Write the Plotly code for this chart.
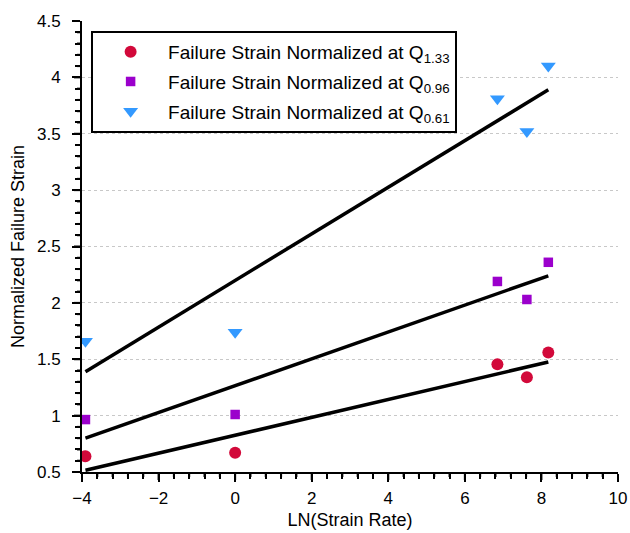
import numpy as np
import plotly.graph_objects as go

# Data
ln_rate = [-3.91, 0.0, 6.85, 7.62, 8.18]
q133 = [0.64, 0.67, 1.455, 1.34, 1.56]
q096 = [0.965, 1.01, 2.19, 2.03, 2.36]
q061 = [1.66, 1.74, 3.81, 3.52, 4.10]

# Fit-line endpoints
fit_x = [-3.91, 8.18]
fit_q133 = [0.515, 1.476]
fit_q096 = [0.80, 2.24]
fit_q061 = [1.39, 3.89]

names = [
    "Failure Strain Normalized at Q<sub>1.33</sub>",
    "Failure Strain Normalized at Q<sub>0.96</sub>",
    "Failure Strain Normalized at Q<sub>0.61</sub>",
]

x_range = [-4, 10]
y_range = [0.5, 4.5]
x_major, x_minor = 2, 0.4
y_major, y_minor = 0.5, 0.1

fig = go.Figure()
for fy in [fit_q133, fit_q096, fit_q061]:
    fig.add_trace(go.Scatter(x=fit_x, y=fy, mode="lines",
                             line=dict(color="black", width=3.5),
                             showlegend=False, hoverinfo="skip"))

fig.add_trace(go.Scatter(x=ln_rate, y=q133, mode="markers", name=names[0],
                         legendgroup="a",
                         marker=dict(symbol="circle", size=12, color="#D2093A")))
fig.add_trace(go.Scatter(x=ln_rate, y=q096, mode="markers", name=names[1],
                         legendgroup="b",
                         marker=dict(symbol="square", size=9.5, color="#9B00CC")))
fig.add_trace(go.Scatter(x=ln_rate, y=q061, mode="markers", name=names[2],
                         legendgroup="c",
                         marker=dict(symbol="triangle-down", size=13, color="#3399FF")))

# Axis tick marks (outside), drawn as pixel-sized shapes anchored on the axes
def is_major(v, step):
    return abs(v / step - round(v / step)) < 1e-6

shapes = []
for v in np.arange(x_range[0], x_range[1] + 1e-9, x_minor):
    v = round(float(v), 6)
    L = 8 if is_major(v, x_major) else 5
    shapes.append(dict(type="line", xref="x", yref="paper", ysizemode="pixel", yanchor=0,
                       x0=v, x1=v, y0=0, y1=-L, line=dict(color="black", width=2),
                       layer="above"))
for v in np.arange(y_range[0], y_range[1] + 1e-9, y_minor):
    v = round(float(v), 6)
    L = 8 if is_major(v, y_major) else 5
    shapes.append(dict(type="line", yref="y", xref="paper", xsizemode="pixel", xanchor=0,
                       y0=v, y1=v, x0=0, x1=-L, line=dict(color="black", width=2),
                       layer="above"))

font_family = "Liberation Sans, Arial, Helvetica, sans-serif"
fig.update_layout(
    width=630, height=533,
    margin=dict(l=82, r=12, t=21, b=61),
    paper_bgcolor="white", plot_bgcolor="white",
    font=dict(family=font_family, size=17, color="black"),
    shapes=shapes,
    legend=dict(x=0.017, y=0.978, xanchor="left", yanchor="top",
                bordercolor="black", borderwidth=2, bgcolor="white",
                font=dict(size=19), itemwidth=65, tracegroupgap=2),
    xaxis=dict(range=x_range, dtick=x_major, showgrid=False, zeroline=False,
               automargin=False,
               showline=True, linecolor="black", linewidth=2,
               ticks="outside", ticklen=8, tickwidth=2, tickcolor="#000000",
               ticklabelstandoff=2,
               minor=dict(dtick=x_minor, ticks="outside", ticklen=5, tickwidth=2,
                          tickcolor="#000000", showgrid=False),
               title=dict(text="LN(Strain Rate)", standoff=6, font=dict(size=18)),
               tickfont=dict(size=17)),
    yaxis=dict(range=y_range, dtick=y_major, zeroline=False,
               automargin=False,
               showgrid=True, gridcolor="#C8C8C8", griddash="dot", gridwidth=1,
               showline=True, linecolor="black", linewidth=2,
               ticks="outside", ticklen=8, tickwidth=2, tickcolor="#000000",
               ticklabelstandoff=8,
               minor=dict(dtick=y_minor, ticks="outside", ticklen=5, tickwidth=2,
                          tickcolor="#000000", showgrid=False),
               title=dict(text="Normalized Failure Strain", standoff=8, font=dict(size=18)),
               tickfont=dict(size=17)),
)

fig.write_html("out.html")
